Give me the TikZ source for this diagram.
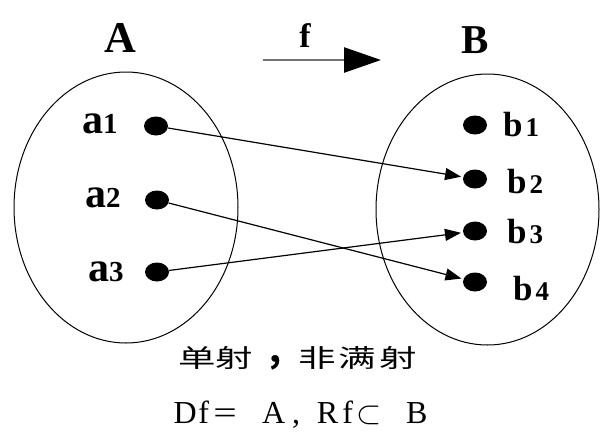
\documentclass[tikz,border=0pt]{standalone}
\usepackage{fontspec}
\usepackage{graphicx}
\setmainfont{Liberation Serif}
\newfontfamily\cjk{Noto Sans CJK SC}
\usetikzlibrary{arrows.meta,shapes.geometric}
\tikzset{
  setline/.style={line width=1pt},
  dotnode/.style={ellipse, fill=black, minimum width=24pt, minimum height=19pt, inner sep=0pt},
  maplink/.style={line width=1.2pt, -{Triangle[length=16pt,width=12pt]}, shorten >=2pt},
  titlelbl/.style={font=\bfseries\fontsize{44}{44}\selectfont, anchor=base, inner sep=0pt},
  albl/.style={font=\bfseries, anchor=base west, inner sep=0pt},
  blbl/.style={font=\bfseries, anchor=base west, inner sep=0pt},
}
\newcommand{\alab}[1]{{\fontsize{42}{42}\selectfont a}{\fontsize{29}{29}\selectfont #1}}
\newcommand{\blab}[1]{{\fontsize{35}{35}\selectfont b}\hspace{3pt}{\fontsize{27}{27}\selectfont #1}}
\newcommand{\zc}[1]{\makebox[0pt][c]{#1}}
\begin{document}
\begin{tikzpicture}[x=1pt,y=-1pt]
\useasboundingbox (0,0) rectangle (600,432);
% sets
\draw[setline] (126,207.5) ellipse [x radius=112pt, y radius=135.5pt];
\draw[setline] (487.5,209.5) ellipse [x radius=111.5pt, y radius=135.5pt];
% titles
\node[titlelbl] (tA) at (120,52) {A};
\node[titlelbl, font=\bfseries\fontsize{41}{41}\selectfont] (tB) at (475,53) {B};
\node[anchor=base, inner sep=0pt, font=\bfseries\fontsize{34}{34}\selectfont] (tf) at (305,47) {f};
\coordinate (fs) at (263,60);
\coordinate (fe) at (381,60);
\draw[line width=2.5pt, color=black!55, -{Triangle[length=37pt,width=25pt,color=black]}] (fs) -- (fe);
% dots
\node[dotnode] (a1) at (156,126) {};
\node[dotnode] (a2) at (157,200) {};
\node[dotnode] (a3) at (157,272) {};
\node[dotnode] (b1) at (475,125) {};
\node[dotnode] (b2) at (475,179) {};
\node[dotnode] (b3) at (475,231) {};
\node[dotnode] (b4) at (475,282) {};
% labels
\node[albl] (la1) at (82,133) {\alab{1}};
\node[albl] (la2) at (85,207) {\alab{2}};
\node[albl] (la3) at (88,281) {\alab{3}};
\node[blbl] (lb1) at (503,136) {\blab{1}};
\node[blbl] (lb2) at (507,193) {\blab{2}};
\node[blbl] (lb3) at (507,243) {\blab{3}};
\node[blbl] (lb4) at (513,300) {\blab{4}};
% mapping
\draw[maplink] (a1) -- (b2);
\draw[maplink] (a2) -- (b4);
\draw[maplink] (a3) -- (b3);
% captions
\node[anchor=base west, inner sep=0pt, font=\cjk\fontsize{25}{25}\selectfont] (cap1) at (197,367)
  {\zc{\scalebox{1.5}[1]{单}}\hspace{37pt}\zc{\scalebox{1.5}[1]{射}}\hspace{41pt}\zc{\raisebox{5pt}{\bfseries\fontsize{34}{34}\selectfont ,}}\hspace{42pt}\zc{\scalebox{1.5}[1]{非}}\hspace{40pt}\zc{\scalebox{1.5}[1]{满}}\hspace{41pt}\zc{\scalebox{1.5}[1]{射}}};
\node[anchor=base west, inner sep=0pt, font=\fontsize{32}{32}\selectfont] (cap2) at (185,423)
  {\zc{D}\hspace{18.5pt}\zc{f}\hspace{21.5pt}\zc{\scalebox{1.3}[1]{=}}\hspace{48.5pt}\zc{A}\hspace{22.5pt}\zc{,}\hspace{31.5pt}\zc{R}\hspace{20pt}\zc{f}\hspace{21.5pt}\zc{\scalebox{1.3}{$\subset$}}\hspace{47.5pt}\zc{B}};
\end{tikzpicture}
\end{document}
